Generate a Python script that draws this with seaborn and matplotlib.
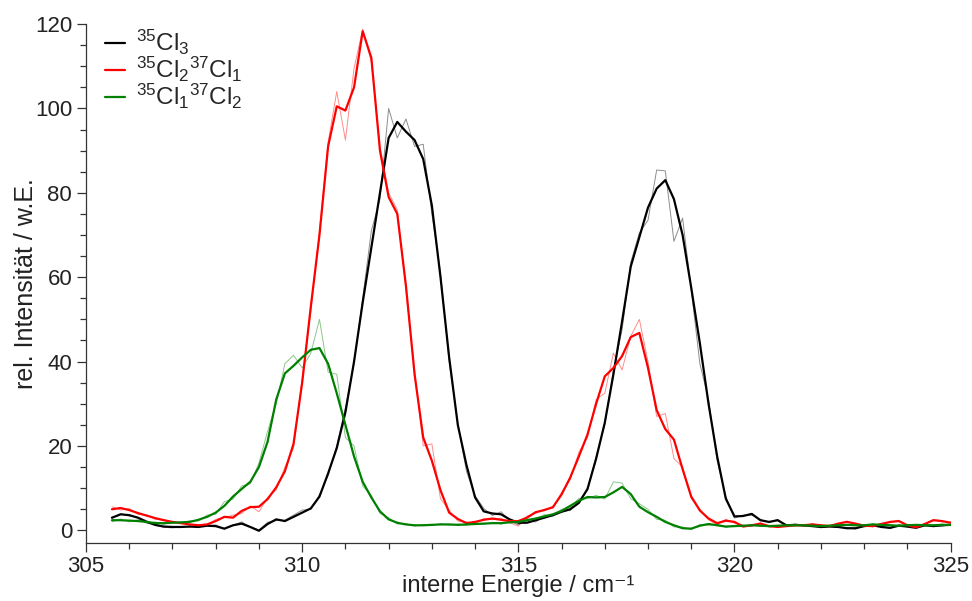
import numpy as np
import pandas as pd
import seaborn as sns
import matplotlib.pyplot as plt
from matplotlib.ticker import MultipleLocator

# energy grid (cm-1), 0.2 steps from 305.6 to 325.0
energie = np.round(np.arange(305.6, 325.01, 0.2), 1)

# 35Cl3, smoothed and raw
cl3_glatt = [3.0, 3.8, 3.6, 3.0, 2.0, 1.3, 0.9, 0.8, 0.8, 0.9,
             0.8, 1.1, 1.0, 0.4, 1.2, 1.6, 0.8, -0.1, 1.5, 2.6,
             2.2, 3.2, 4.2, 5.2, 8.0, 13.5, 19.5, 28, 40, 54,
             67, 80, 93, 96.8, 94.5, 92.5, 88, 77, 60, 41,
             25, 15.5, 7.8, 4.5, 4.0, 3.8, 2.6, 1.8, 1.8, 2.4,
             3.0, 3.6, 4.4, 5.0, 6.5, 9.8, 17, 25.5, 37, 49.5,
             62.5, 69.5, 76.5, 81, 83, 78.5, 70, 57.5, 44.3, 30,
             17.5, 7.5, 3.3, 3.4, 3.9, 2.4, 2.0, 2.4, 1.2, 1.3,
             1.2, 1.0, 0.8, 0.9, 0.8, 0.5, 0.5, 1.0, 1.2, 0.8,
             0.6, 1.1, 0.9, 0.6, 1.2, 1.0, 1.2, 1.3]
cl3_roh = [2.8, 3.9, 3.4, 3.1, 2.3, 1.2, 0.7, 0.6, 0.9, 0.8,
           1.0, 1.1, 1.3, 0.3, 1.2, 2.0, 0.8, 0.1, 1.9, 2.3,
           2.4, 3.6, 4.8, 5.0, 8.4, 13, 20, 29, 39.5, 55,
           71, 78.5, 100, 93, 97.5, 91, 91.5, 75, 61, 40,
           25.5, 14, 8.2, 5.2, 3.5, 4.4, 2.3, 1.3, 2.3, 2.0,
           3.3, 3.4, 4.6, 4.7, 6.9, 9.5, 17.5, 25, 38, 47.5,
           63.5, 70.5, 73.5, 85.4, 85.2, 68.5, 74, 57, 39.5, 31,
           16.5, 8, 2.9, 3.6, 3.6, 2.6, 1.8, 2.6, 1.0, 1.5,
           1.0, 1.2, 0.6, 1.1, 0.7, 0.7, 0.3, 1.2, 1.0, 1.0,
           0.4, 1.3, 0.8, 0.8, 1.1, 1.2, 1.0, 1.4]

# 35Cl2 37Cl1
cl2_glatt = [5.0, 5.3, 4.8, 4.1, 3.5, 2.9, 2.4, 2.0, 1.7, 1.4,
             1.2, 1.4, 2.2, 3.2, 3.0, 4.6, 5.5, 5.6, 7.4, 10.2,
             14, 20.5, 35, 53, 70, 91, 100.5, 99.5, 105, 118.3,
             112, 90, 79, 75, 58, 37, 22, 16.5, 9.5, 4.2,
             2.7, 1.7, 2.0, 2.5, 2.8, 2.5, 2.2, 2.2, 3.0, 4.3,
             4.8, 5.5, 8.5, 12.5, 17.5, 22.7, 30, 36.5, 38.5, 41.3,
             45.8, 46.8, 38.5, 28.5, 24, 21.5, 14.5, 8, 4.7, 2.8,
             1.7, 2.3, 2.0, 0.9, 1.2, 1.6, 1.0, 0.8, 1.0, 1.2,
             1.2, 1.4, 1.2, 1.0, 1.6, 2.0, 1.6, 1.1, 1.0, 1.5,
             2.0, 2.2, 1.2, 0.7, 1.5, 2.4, 2.2, 1.8]
cl2_roh = [5.6, 4.8, 5.2, 3.8, 3.7, 2.6, 2.6, 1.8, 1.9, 1.2,
           1.4, 1.2, 2.6, 3.0, 3.6, 4.0, 5.8, 4.4, 7.8, 9.6,
           15, 19.5, 36, 52, 71, 92, 104, 92.5, 109.5, 118.8,
           111, 91, 80, 76, 57, 38, 20, 20.5, 7.5, 4.8,
           2.2, 2.0, 1.6, 2.8, 2.5, 2.9, 1.8, 1.0, 3.4, 4.0,
           5.0, 5.2, 9.0, 12, 18.5, 22, 31, 32.5, 42, 38,
           46, 50, 40, 27, 27.7, 17, 15, 7.5, 5.0, 2.5,
           1.3, 2.6, 1.7, 1.2, 0.9, 1.8, 0.8, 1.0, 0.9, 1.4,
           1.0, 1.6, 1.0, 1.2, 1.4, 2.2, 1.4, 1.3, 0.8, 1.7,
           1.8, 2.4, 1.0, 0.9, 1.3, 2.6, 2.0, 2.0]

# 35Cl1 37Cl2
cl1_glatt = [2.4, 2.4, 2.3, 2.2, 2.0, 1.7, 1.7, 1.8, 1.9, 2.0,
             2.5, 3.2, 4.2, 5.8, 8.0, 9.8, 11.5, 15, 21, 31,
             37.2, 39, 41, 42.8, 43.2, 39.5, 32.5, 25, 17.5, 11.5,
             7.8, 4.5, 2.6, 1.8, 1.4, 1.2, 1.2, 1.3, 1.4, 1.4,
             1.3, 1.4, 1.5, 1.6, 1.7, 1.7, 1.9, 2.0, 2.4, 2.8,
             3.3, 3.8, 4.6, 5.8, 7.0, 7.9, 7.8, 7.9, 9.0, 10.3,
             8.6, 5.6, 4.3, 3.2, 2.0, 1.2, 0.5, 0.4, 1.1, 1.5,
             1.2, 0.9, 1.0, 1.1, 1.2, 1.1, 1.0, 1.1, 1.2, 1.2,
             1.2, 1.1, 1.0, 1.1, 1.2, 1.3, 1.2, 1.2, 1.4, 1.3,
             1.2, 1.1, 1.2, 1.3, 1.2, 1.2, 1.3, 1.3]
cl1_roh = [2.0, 2.7, 2.0, 2.5, 1.7, 2.0, 1.4, 2.1, 1.7, 2.3,
           2.2, 3.6, 3.8, 6.8, 7.4, 10.5, 11, 16, 23.5, 30,
           39.5, 41.5, 38.5, 42, 50, 37.5, 37, 22, 20, 10.5,
           8.3, 4.0, 3.0, 1.5, 1.6, 1.0, 1.4, 1.1, 1.6, 1.2,
           1.5, 1.2, 1.7, 1.4, 1.9, 1.5, 2.1, 1.8, 2.7, 2.5,
           3.7, 3.5, 5.0, 5.4, 7.6, 7.5, 8.3, 7.4, 11.5, 11.2,
           7.5, 6.3, 5.0, 2.6, 2.4, 0.8, 0.8, 0.2, 1.4, 1.2,
           1.5, 0.7, 1.2, 0.9, 1.4, 0.9, 1.2, 0.9, 1.4, 1.0,
           1.4, 0.9, 1.2, 0.9, 1.4, 1.1, 1.4, 1.0, 1.6, 1.1,
           1.4, 0.9, 1.4, 1.1, 1.4, 1.0, 1.5, 1.1]

namen = ['$^{35}$Cl$_3$', '$^{35}$Cl$_2$$^{37}$Cl$_1$', '$^{35}$Cl$_1$$^{37}$Cl$_2$']
farben = ['#000000', '#ff0000', '#008000']
glatt = [cl3_glatt, cl2_glatt, cl1_glatt]
roh = [cl3_roh, cl2_roh, cl1_roh]


def main():
    sns.set_style('ticks')
    plt.rcParams['font.family'] = ['Liberation Sans', 'DejaVu Sans']
    plt.rcParams['mathtext.default'] = 'regular'
    plt.rcParams['axes.edgecolor'] = '#333333'
    plt.rcParams['xtick.color'] = '#333333'
    plt.rcParams['ytick.color'] = '#333333'

    fig = plt.figure(figsize=(9.72, 6.01), dpi=100)
    ax = fig.add_axes([0.0885, 0.0965, 0.978 - 0.0885, 0.960 - 0.0965])

    # raw traces first, thin and light
    for werte, farbe in zip(roh, farben):
        df = pd.DataFrame({'E': energie, 'I': werte})
        sns.lineplot(data=df, x='E', y='I', color=farbe, lw=0.7, alpha=0.45,
                     estimator=None, ax=ax, legend=False)

    # smoothed traces
    for werte, farbe, name in zip(glatt, farben, namen):
        df = pd.DataFrame({'E': energie, 'I': werte})
        sns.lineplot(data=df, x='E', y='I', color=farbe, lw=1.6,
                     estimator=None, ax=ax, label=name)

    ax.set_xlim(305, 325)
    ax.set_ylim(-3, 120)
    ax.xaxis.set_major_locator(MultipleLocator(5))
    ax.xaxis.set_minor_locator(MultipleLocator(1))
    ax.yaxis.set_major_locator(MultipleLocator(20))
    ax.yaxis.set_minor_locator(MultipleLocator(5))
    ax.tick_params(which='major', length=6.5, width=0.9, labelsize=16, labelcolor='#222222')
    ax.tick_params(which='minor', length=4.3, width=0.9)
    ax.tick_params(axis='x', pad=2.5)
    sns.despine(ax=ax)
    for s in ['left', 'bottom']:
        ax.spines[s].set_linewidth(0.9)

    ax.set_xlabel('interne Energie / cm⁻¹', fontsize=17, labelpad=-1, color='#222222')
    ax.set_ylabel('rel. Intensität / w.E.', fontsize=18, labelpad=-2, color='#222222')

    ax.legend(loc='upper left', bbox_to_anchor=(0.0, 1.03), frameon=False,
              fontsize=17.5, handlelength=0.8, handletextpad=0.45,
              labelspacing=-0.08, borderaxespad=0.4)

    fig.savefig('out.png', dpi=100)
    plt.close(fig)


if __name__ == '__main__':
    main()
